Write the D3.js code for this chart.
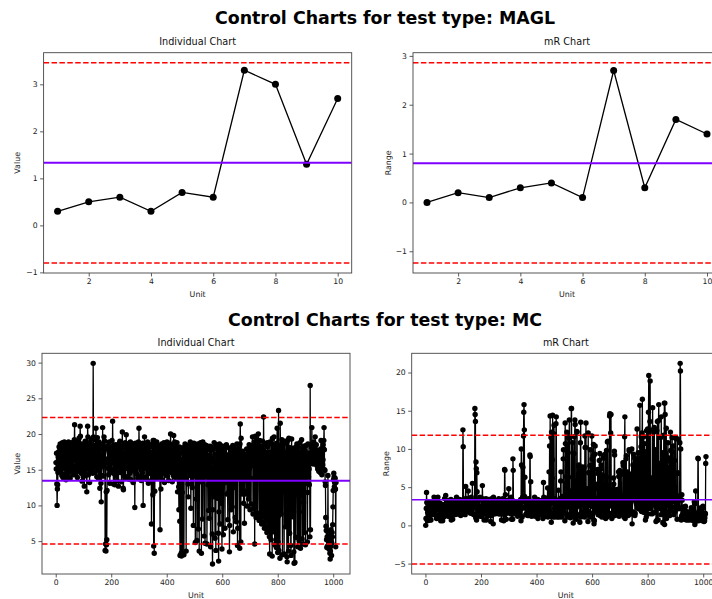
<!DOCTYPE html>
<html>
<head>
<meta charset="utf-8">
<script src="https://cdn.jsdelivr.net/npm/d3@7"></script>
<style>
  body { margin: 0; background: #fff; }
  svg { display: block; font-family: "DejaVu Sans", sans-serif; }
</style>
</head>
<body>
<svg id="chart" width="712" height="599"></svg>
<script>
// ---- MAGL: 10 units ----
const maglValues = [0.3, 0.5, 0.6, 0.3, 0.7, 0.6, 3.3, 3.0, 1.3, 2.7];
const maglIndLimits = [-0.80, 1.33, 3.46];   // LCL, centre, UCL
const maglMrLimits = [-1.24, 0.80, 2.86];
const maglXTicks = [2, 4, 6, 8, 10];
const maglYTicks = [-1, 0, 1, 2, 3];

// ---- MC: ~1010 units ----
const mcValues = [
  16.0,15.1,17.3,13.0,10.0,12.3,12.9,14.6,16.8,17.5,15.4,18.2,16.6,14.8,17.9,18.6,16.3,15.0,17.7,18.4,
  16.1,14.2,17.0,18.8,15.7,13.9,16.4,18.5,17.1,15.2,18.9,16.5,14.4,17.3,18.7,15.8,13.6,16.9,18.3,17.4,
  15.0,18.6,16.2,14.1,17.8,18.9,15.9,14.7,17.2,18.4,16.0,13.8,16.7,18.1,17.5,14.9,17.0,18.8,16.4,15.3,
  17.6,18.2,15.5,14.3,16.9,18.0,19.2,21.3,17.8,15.1,16.6,18.5,14.6,16.3,19.0,17.4,15.7,13.9,17.1,18.7,
  16.0,14.8,17.5,19.4,16.2,15.0,18.3,21.1,19.7,16.8,14.5,17.9,18.6,15.4,13.4,16.1,18.0,17.2,14.0,16.5,
  18.4,15.8,12.7,14.9,17.6,19.0,16.3,14.2,17.4,18.9,15.6,11.9,15.2,18.1,21.1,19.6,16.7,14.3,17.0,18.5,
  15.9,13.2,16.6,18.8,17.3,14.7,16.0,19.3,17.7,15.1,18.2,16.4,14.5,17.4,29.9,19.6,17.0,15.3,18.4,16.9,
  14.6,17.8,19.2,15.7,20.8,18.1,16.2,14.0,17.5,19.5,16.8,15.0,18.3,13.8,16.4,18.9,17.1,14.9,12.4,15.6,
  17.9,16.3,13.1,10.5,14.2,17.0,18.6,15.4,20.9,18.0,16.5,14.1,17.3,19.6,18.2,15.8,19.0,3.7,18.2,4.6,
  3.6,11.9,4.5,5.2,12.1,16.5,17.9,15.2,18.4,16.0,14.3,17.6,18.9,15.5,13.1,16.8,18.2,17.0,14.6,16.3,
  15.1,17.4,19.1,16.6,21.8,18.3,15.9,13.0,16.2,18.0,17.3,14.4,12.9,15.8,18.5,16.9,14.2,17.7,18.4,15.6,
  13.5,16.4,18.2,17.0,14.8,12.7,16.1,18.6,15.3,17.5,19.0,16.2,14.6,17.8,18.3,15.7,13.3,16.8,18.1,20.3,
  17.2,15.0,12.4,12.2,15.9,18.4,16.6,14.1,17.3,18.8,16.0,13.9,17.1,19.9,17.6,15.2,18.0,16.4,14.0,16.9,
  18.5,15.5,13.7,17.2,18.7,16.1,14.5,17.4,18.9,15.8,13.6,16.3,18.2,17.5,14.9,16.7,18.6,15.1,13.2,16.0,
  17.8,18.4,15.6,17.0,9.7,16.9,18.7,14.7,16.5,18.1,17.3,14.4,16.2,18.6,15.4,13.8,17.1,18.9,16.0,20.8,
  18.2,15.7,17.5,14.1,16.8,18.5,15.0,13.5,17.2,18.0,16.3,14.6,17.9,18.7,10.0,17.2,15.4,13.9,16.6,19.6,
  17.3,15.2,18.3,16.0,14.0,17.0,18.6,15.8,13.6,16.4,18.9,17.7,15.3,13.1,16.2,18.4,17.0,14.5,16.9,18.2,
  15.6,13.4,16.8,17.4,7.4,15.3,17.5,18.6,15.2,11.5,19.1,16.0,4.3,19.1,3.3,15.8,12.0,18.3,15.1,17.6,
  16.2,14.0,17.3,18.9,16.5,13.8,17.1,18.4,15.9,14.3,17.8,16.5,15.0,17.2,15.8,6.6,15.6,18.0,12.3,14.9,
  17.4,18.6,15.5,13.6,16.7,18.3,17.0,14.4,16.1,18.8,15.7,13.2,16.9,18.5,17.3,14.7,16.4,18.1,15.2,17.6,
  18.9,16.0,14.1,17.5,18.4,15.3,13.5,16.8,18.7,17.2,14.9,16.3,18.2,20.0,17.1,14.6,16.9,18.5,15.4,13.3,
  16.6,18.3,17.4,14.2,19.8,16.1,14.5,17.7,18.9,15.6,13.9,17.0,18.4,16.2,14.3,17.6,18.8,15.5,11.9,16.8,
  17.9,15.2,12.6,9.4,16.4,18.2,7.8,3.0,17.3,16.0,14.8,3.3,2.9,15.1,18.0,11.8,3.2,17.6,16.5,18.1,
  15.1,3.1,16.2,14.0,17.5,18.6,15.3,13.8,16.9,3.6,17.8,16.1,14.7,17.2,18.3,15.6,13.0,11.2,15.8,17.4,
  18.5,16.0,14.2,17.7,18.9,15.4,9.6,16.6,18.1,17.0,14.8,12.5,16.3,18.4,15.9,7.2,17.1,18.7,16.4,14.1,
  17.6,18.2,4.8,15.5,18.0,16.4,10.9,17.3,5.1,14.9,17.5,18.6,16.2,6.7,18.3,15.0,3.6,17.4,16.0,13.3,
  17.8,18.8,15.7,18.6,3.3,18.6,16.2,14.4,8.1,18.9,16.2,16.5,18.0,15.1,5.7,17.3,18.5,4.7,17.9,16.2,
  14.0,17.6,18.4,16.9,4.6,16.8,18.1,15.4,12.9,17.0,9.3,16.1,8.2,14.3,17.9,18.3,15.0,4.2,17.7,16.6,
  18.2,15.3,13.6,6.0,1.8,9.4,16.4,18.0,14.7,11.2,18.8,16.0,17.1,5.4,15.6,13.9,3.7,17.1,18.5,16.3,
  14.6,11.0,15.8,17.7,18.2,6.1,2.2,9.1,16.0,18.6,15.2,7.4,17.3,18.4,16.8,10.3,18.1,15.6,3.9,12.6,
  16.8,18.3,15.0,5.9,16.5,17.2,17.4,18.0,16.1,6.8,17.2,15.4,13.2,16.7,18.5,16.4,11.6,17.0,15.3,8.0,
  14.8,16.2,18.1,14.8,12.0,3.5,7.2,16.6,17.9,15.5,16.8,9.4,17.3,16.0,14.9,9.8,16.4,18.4,15.1,6.3,
  15.4,16.9,18.0,15.7,12.5,17.6,8.3,17.1,16.2,14.0,7.7,17.5,18.6,15.3,4.4,6.8,17.8,16.5,13.9,15.3,
  16.7,18.3,4.0,18.6,21.4,17.0,4.9,19.4,15.8,13.2,14.1,11.6,16.4,17.6,14.9,16.5,10.3,15.7,17.2,7.5,
  16.7,15.4,16.8,13.5,15.8,11.6,16.2,17.9,14.6,9.9,12.1,16.8,15.0,17.9,10.9,17.3,18.5,15.2,16.6,9.4,
  16.1,17.7,13.8,10.2,16.9,18.4,15.6,17.9,19.6,17.0,8.8,16.6,9.6,17.8,18.9,16.2,4.6,18.8,19.7,15.4,
  17.0,8.3,17.4,19.2,16.6,15.1,8.9,15.9,18.7,20.0,16.3,17.8,7.9,17.6,19.1,15.0,8.3,14.2,18.3,16.8,
  13.7,7.4,17.4,17.2,19.0,15.5,7.6,13.1,22.4,17.7,14.2,6.8,15.6,16.9,18.5,15.1,7.0,12.8,17.4,14.6,
  6.2,18.8,15.7,18.2,16.0,6.5,11.2,17.5,14.4,5.6,3.2,18.9,16.3,13.5,15.5,5.2,16.8,18.6,15.0,2.9,
  19.4,16.7,14.1,16.0,6.3,17.9,19.6,15.2,4.5,12.0,17.6,18.3,14.8,5.2,4.1,16.5,18.7,20.8,16.0,3.4,
  4.9,8.5,23.3,3.7,15.8,18.4,16.2,2.6,21.5,17.1,14.5,8.8,15.0,17.7,19.2,15.6,3.1,18.5,16.9,14.2,
  18.6,15.4,3.2,16.0,19.0,17.3,13.8,7.0,16.9,16.4,18.8,15.2,2.8,2.1,15.7,19.1,16.6,17.3,3.6,19.4,
  17.0,14.2,6.1,12.5,18.1,15.9,4.4,3.0,17.2,19.3,16.1,13.4,8.4,17.9,17.6,18.0,15.3,3.5,1.9,17.9,
  18.0,2.0,16.5,17.8,14.9,5.5,18.2,17.3,18.6,15.7,13.1,4.2,15.0,18.2,16.4,12.6,5.0,9.1,17.5,18.8,
  16.2,4.0,13.8,17.4,15.5,19.2,16.8,5.3,14.9,18.1,15.0,4.6,10.4,16.9,18.3,14.7,6.2,17.7,15.9,4.5,
  16.0,18.4,15.3,13.1,17.0,16.2,4.9,11.8,18.6,16.4,14.0,17.3,15.1,12.9,16.4,5.6,26.8,6.6,16.6,17.4,
  18.1,16.9,20.9,17.6,16.2,18.4,17.0,15.8,17.7,18.9,16.5,17.3,15.9,18.2,19.6,17.1,16.0,17.8,18.5,16.7,
  15.6,17.2,16.4,15.1,16.8,17.5,15.9,14.8,16.2,17.7,16.6,15.3,14.6,16.0,17.9,19.1,16.8,15.4,14.3,16.1,
  17.2,15.7,16.4,18.5,17.9,19.1,20.9,17.8,15.0,14.9,13.3,12.8,8.3,7.1,6.5,5.2,4.1,5.6,4.3,5.4,
  14.2,5.5,6.1,4.6,3.9,5.8,4.0,3.3,2.5,3.6,4.3,6.6,5.1,3.0,4.7,6.2,5.6,7.3,9.8,12.1,
  13.6,14.5,14.0,12.6,13.2,12.2,13.8,12.3,4.2,13.2
];
const mcIndLimits = [4.6, 13.45, 22.3];
const mcMrLimits = [-5.05, 3.35, 11.8];
const mcXTicks = [0, 200, 400, 600, 800, 1000];
const mcIndYTicks = [5, 10, 15, 20, 25, 30];
const mcMrYTicks = [-5, 0, 5, 10, 15, 20];

// moving range |x_i - x_(i-1)|, first one plotted as 0
const movingRange = vals => vals.map((v, i) => i === 0 ? 0 : Math.abs(v - vals[i - 1]));

const svg = d3.select('#chart');
const pad = ([a, b]) => [a - (b - a) * 0.05, b + (b - a) * 0.05];
let clipId = 0;

function drawPanel(box, vals, limits, o) {
  const units = vals.map((d, i) => i + 1);
  const x = d3.scaleLinear().domain(pad(d3.extent(units))).range([box.x0, box.x1]);
  const lo = Math.min(d3.min(vals), limits[0]);
  const hi = Math.max(d3.max(vals), limits[2]);
  const y = d3.scaleLinear().domain(pad([lo, hi])).range([box.y1, box.y0]);

  const id = 'clip' + (clipId++);
  svg.append('clipPath').attr('id', id).append('rect')
    .attr('x', box.x0).attr('y', box.y0)
    .attr('width', box.x1 - box.x0).attr('height', box.y1 - box.y0);

  const g = svg.append('g').attr('clip-path', `url(#${id})`);

  g.append('path')
    .datum(vals)
    .attr('fill', 'none')
    .attr('stroke', '#000')
    .attr('stroke-width', 1.3)
    .attr('d', d3.line().x((d, i) => x(i + 1)).y(d => y(d)));

  g.selectAll('circle')
    .data(vals)
    .enter()
    .append('circle')
    .attr('cx', (d, i) => x(i + 1))
    .attr('cy', d => y(d))
    .attr('r', o.r)
    .attr('fill', '#000');

  // centre line, then UCL / LCL
  g.append('line')
    .attr('x1', box.x0).attr('x2', box.x1)
    .attr('y1', y(limits[1])).attr('y2', y(limits[1]))
    .attr('stroke', '#7f00ff').attr('stroke-width', o.cw);

  [limits[2], limits[0]].forEach(v => {
    g.append('line')
      .attr('x1', box.x0).attr('x2', box.x1)
      .attr('y1', y(v)).attr('y2', y(v))
      .attr('stroke', '#ff0000').attr('stroke-width', 1.5)
      .attr('stroke-dasharray', '5.5,2.4');
  });

  // axes
  const fmt = d3.format('d');
  const xa = svg.append('g')
    .attr('transform', `translate(0,${box.y1})`)
    .call(d3.axisBottom(x).tickValues(o.xticks).tickFormat(fmt).tickSize(3.5).tickPadding(2.5));
  const ya = svg.append('g')
    .attr('transform', `translate(${box.x0},0)`)
    .call(d3.axisLeft(y).tickValues(o.yticks).tickFormat(fmt).tickSize(3.5).tickPadding(2.5));
  [xa, ya].forEach(a => {
    a.select('.domain').remove();
    a.selectAll('line').attr('stroke', '#333').attr('stroke-width', 0.8);
    a.selectAll('text').attr('fill', '#222').style('font-size', '7.7px').style('font-family', '"DejaVu Sans"');
  });

  svg.append('rect')
    .attr('x', box.x0).attr('y', box.y0)
    .attr('width', box.x1 - box.x0).attr('height', box.y1 - box.y0)
    .attr('fill', 'none').attr('stroke', '#444').attr('stroke-width', 0.9);

  svg.append('text')
    .attr('x', (box.x0 + box.x1) / 2).attr('y', box.y0 - 7.5)
    .attr('text-anchor', 'middle')
    .style('font-size', '9.7px').attr('fill', '#111')
    .text(o.title);

  svg.append('text')
    .attr('x', (box.x0 + box.x1) / 2).attr('y', box.y1 + 24)
    .attr('text-anchor', 'middle')
    .style('font-size', '7.9px').attr('fill', '#222')
    .text('Unit');

  svg.append('text')
    .attr('transform', `translate(${o.ylabelX},${(box.y0 + box.y1) / 2}) rotate(-90)`)
    .attr('text-anchor', 'middle')
    .attr('dy', '0.35em')
    .style('font-size', '7.9px').attr('fill', '#222')
    .text(o.ylabel);
}

function suptitle(text, yc) {
  svg.append('text')
    .attr('x', 385).attr('y', yc).attr('dy', '0.35em')
    .attr('text-anchor', 'middle')
    .style('font-size', '17.4px').style('font-weight', 'bold')
    .attr('fill', '#000')
    .text(text);
}

suptitle('Control Charts for test type: MAGL', 18);
suptitle('Control Charts for test type: MC', 320);

drawPanel({ x0: 43.6, x1: 351.7, y0: 52.7, y1: 273 }, maglValues, maglIndLimits,
  { title: 'Individual Chart', ylabel: 'Value', ylabelX: 17, xticks: maglXTicks, yticks: maglYTicks, r: 3.5, cw: 2 });
drawPanel({ x0: 413, x1: 721, y0: 52.7, y1: 273 }, movingRange(maglValues), maglMrLimits,
  { title: 'mR Chart', ylabel: 'Range', ylabelX: 388, xticks: maglXTicks, yticks: maglYTicks, r: 3.5, cw: 2 });
drawPanel({ x0: 42, x1: 350, y0: 353.3, y1: 574 }, mcValues, mcIndLimits,
  { title: 'Individual Chart', ylabel: 'Value', ylabelX: 17.3, xticks: mcXTicks, yticks: mcIndYTicks, r: 2.7, cw: 2 });
drawPanel({ x0: 411.7, x1: 720, y0: 353.3, y1: 574 }, movingRange(mcValues), mcMrLimits,
  { title: 'mR Chart', ylabel: 'Range', ylabelX: 386.7, xticks: mcXTicks, yticks: mcMrYTicks, r: 2.7, cw: 1.5 });
</script>
</body>
</html>
